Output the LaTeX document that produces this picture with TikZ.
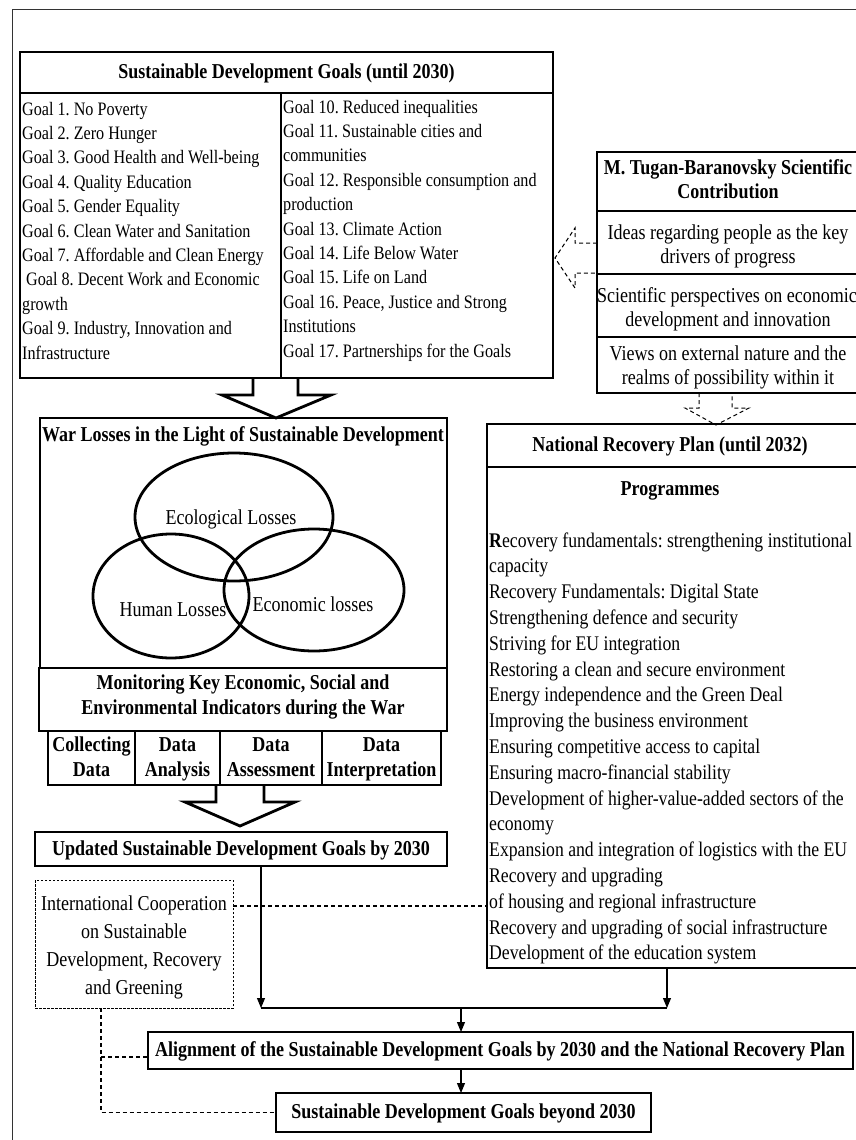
\documentclass[tikz,border=0pt]{standalone}
\usepackage{fontspec}
\setmainfont{Liberation Serif}[FakeStretch=0.85]
\usetikzlibrary{arrows.meta,calc,shapes.geometric}
\newcommand\fsGoal{\frenchspacing\fontsize{19}{22}\selectfont}
\newcommand\fsMain{\frenchspacing\fontsize{21.2}{24}\selectfont}
\newcommand\fsNrp{\frenchspacing\fontsize{20.8}{24}\selectfont}
\begin{document}
\begin{tikzpicture}[x=1pt,y=-1pt,
  box/.style={draw, line width=1.2pt, inner sep=0pt, outer sep=0pt, anchor=north west},
  dotbox/.style={draw, line width=0.9pt, dash pattern=on 2.5pt off 1.5pt, inner sep=0pt, outer sep=0pt, anchor=north west},
  gtxt/.style={anchor=base west, inner sep=0pt, font=\fsGoal},
  ntxt/.style={anchor=base west, inner sep=0pt, font=\fsNrp},
  ctxt/.style={anchor=base, inner sep=0pt, font=\fsMain},
  btxt/.style={anchor=base, inner sep=0pt, font=\fsMain\bfseries},
  ell/.style={draw, ellipse, line width=2.8pt, inner sep=0pt},
  hollow/.style={draw, line width=2.8pt, line join=miter},
  dhollow/.style={draw, line width=1pt, dash pattern=on 4pt off 3pt},
  dcon/.style={draw, line width=1.3pt, dash pattern=on 4pt off 3pt},
  con/.style={draw, line width=1.1pt, -{Triangle[length=10pt,width=8pt]}},
  frame/.style={draw, line width=1pt, black!80}]
\useasboundingbox (0,0) rectangle (856,1140);
% outer frame
\coordinate (f1) at (12,1141);
\coordinate (f2) at (12,10);
\coordinate (f3) at (857,10);
\draw[frame] (f1) -- (f2) -- (f3);

% ---------- SDG box ----------
\node[box, minimum width=533pt, minimum height=326pt] (sdg) at (20,52) {};
\coordinate (sdgl) at (20,93);
\draw[line width=1.2pt] (sdgl) -- (sdgl -| sdg.east);
\coordinate (sdgd) at (281,93);
\draw[line width=1.2pt] (sdgd) -- (sdgd |- sdg.south);
\node[btxt] (sdgt) at (286.5,78) {Sustainable Development Goals (until 2030)};
\foreach \t [count=\i] in {Goal 1. No Poverty, Goal 2. Zero Hunger, Goal 3. Good Health and Well-being, Goal 4. Quality Education, Goal 5. Gender Equality, Goal 6. Clean Water and Sanitation, Goal 7. Affordable and Clean Energy, {\hspace{4pt}Goal 8. Decent Work and Economic}, growth, {Goal 9. Industry, Innovation and}, Infrastructure}
  \node[gtxt] (gl\i) at (22,{115+24.4*(\i-1)}) {\t};
\foreach \t [count=\i] in {Goal 10. Reduced inequalities, Goal 11. Sustainable cities and, communities, Goal 12. Responsible consumption and, production, Goal 13. Climate Action, Goal 14. Life Below Water, Goal 15. Life on Land, {Goal 16. Peace, Justice and Strong}, Institutions, Goal 17. Partnerships for the Goals}
  \node[gtxt] (gr\i) at (283,{113+24.4*(\i-1)}) {\t};

% ---------- Tugan-Baranovsky box ----------
\node[box, minimum width=262pt, minimum height=241pt] (tug) at (597,152) {};
\foreach \yy [count=\i] in {211,274,337} {
  \coordinate (ts\i) at (597,\yy);
  \draw[line width=1.2pt] (ts\i) -- (ts\i -| tug.east);
}
\node[btxt] (tugt1) at (728,174) {M. Tugan-Baranovsky Scientific};
\node[btxt] (tugt2) at (728,198) {Contribution};
\node[ctxt] (tuga1) at (728,239) {Ideas regarding people as the key};
\node[ctxt] (tuga2) at (728,263) {drivers of progress};
\node[ctxt] (tugb1) at (727,302) {Scientific perspectives on economic};
\node[ctxt] (tugb2) at (728,326) {development and innovation};
\node[ctxt] (tugc1) at (728,360) {Views on external nature and the};
\node[ctxt] (tugc2) at (728,384) {realms of possibility within it};

% dashed hollow arrow to the left
\coordinate (la) at (597,243);
\draw[dhollow] (la) -- ++(-22,0) -- ++(0,-15) -- ++(-20,30) -- ++(20,30) -- ++(0,-15) -- ++(22,0);
% dashed hollow arrow down
\coordinate (da) at (699,393);
\draw[dhollow] (da) -- ++(0,15) -- ++(-14,0) -- ++(31,17) -- ++(33,-17) -- ++(-17,0) -- ++(0,-15);

% ---------- National Recovery Plan ----------
\node[box, minimum width=372pt, minimum height=544pt] (nrp) at (487,424) {};
\coordinate (nrps) at (487,467);
\draw[line width=1.2pt] (nrps) -- (nrps -| nrp.east);
\node[btxt] (nrpt) at (670,451) {National Recovery Plan (until 2032)};
\node[btxt] (prog) at (670,495) {Programmes};
\foreach \t [count=\i] in {\textbf{R}ecovery fundamentals: strengthening institutional, capacity, Recovery Fundamentals: Digital State, Strengthening defence and security, Striving for EU integration, Restoring a clean and secure environment, Energy independence and the Green Deal, Improving the business environment, Ensuring competitive access to capital, Ensuring macro-financial stability, Development of higher-value-added sectors of the, economy, Expansion and integration of logistics with the EU, Recovery and upgrading, of housing and regional infrastructure, Recovery and upgrading of social infrastructure, Development of the education system}
  \node[ntxt] (np\i) at (489,{547+25.8*(\i-1)}) {\t};

% ---------- big hollow arrow 1 ----------
\coordinate (a1) at (276,378);
\draw[hollow] ($(a1)+(-23,0)$) -- ++(0,17) -- ++(-31,0) -- ($(a1)+(0,40)$) -- ++(55,-23) -- ++(-33,0) -- ++(0,-17);

% ---------- War losses ----------
\node[box, minimum width=407pt, minimum height=250pt] (war) at (40,418) {};
\node[btxt] (wart) at (243,441) {War Losses in the Light of Sustainable Development};
\node[ell, minimum width=198pt, minimum height=128pt] (eco) at (234,517) {};
\node[ell, minimum width=156pt, minimum height=124pt] (hum) at (171,596) {};
\node[ell, minimum width=180pt, minimum height=122pt] (econ) at (314,590) {};
\node[ctxt] (ecot) at (231,524) {Ecological Losses};
\node[ctxt] (humt) at (173,616) {Human Losses};
\node[ctxt] (econt) at (313,611) {Economic losses};

% ---------- Monitoring ----------
\node[box, minimum width=408pt, minimum height=63pt] (mon) at (39,668) {};
\node[btxt] (mon1) at (243,689) {Monitoring Key Economic, Social and};
\node[btxt] (mon2) at (243,714) {Environmental Indicators during the War};
\node[box, minimum width=87pt, minimum height=54pt] (c1) at (48,731) {};
\node[box, minimum width=85pt, minimum height=54pt] (c2) at (135,731) {};
\node[box, minimum width=102pt, minimum height=54pt] (c3) at (220,731) {};
\node[box, minimum width=119pt, minimum height=54pt] (c4) at (322,731) {};
\node[btxt] (c1a) at (91.5,751) {Collecting};
\node[btxt] (c1b) at (91.5,776) {Data};
\node[btxt] (c2a) at (177.5,751) {Data};
\node[btxt] (c2b) at (177.5,776) {Analysis};
\node[btxt] (c3a) at (271,751) {Data};
\node[btxt] (c3b) at (271,776) {Assessment};
\node[btxt] (c4a) at (381.5,751) {Data};
\node[btxt] (c4b) at (381.5,776) {Interpretation};

% ---------- big hollow arrow 2 ----------
\coordinate (a2) at (240,785);
\draw[hollow] ($(a2)+(-24,0)$) -- ++(0,17) -- ++(-31,0) -- ($(a2)+(0,41)$) -- ++(55,-24) -- ++(-31,0) -- ++(0,-17);

% ---------- Updated SDG ----------
\node[box, minimum width=412pt, minimum height=34pt] (upd) at (35,832) {};
\node[btxt] (updt) at (241,855) {Updated Sustainable Development Goals by 2030};

% ---------- International cooperation ----------
\node[dotbox, minimum width=198pt, minimum height=128pt] (intl) at (35,880) {};
\node[ctxt] (in1) at (134,910) {International Cooperation};
\node[ctxt] (in2) at (134,938) {on Sustainable};
\node[ctxt] (in3) at (134,966) {Development, Recovery};
\node[ctxt] (in4) at (134,994) {and Greening};

% ---------- Alignment and beyond ----------
\node[box, minimum width=705pt, minimum height=37pt] (align) at (148,1032) {};
\node[btxt] (alignt) at (500,1056) {Alignment of the Sustainable Development Goals by 2030 and the National Recovery Plan};
\node[box, minimum width=375pt, minimum height=39pt] (beyond) at (276,1093) {};
\node[btxt] (beyondt) at (463.5,1118) {Sustainable Development Goals beyond 2030};

% ---------- connectors ----------
\coordinate (u1) at ($(upd.south west)+(226,0)$);
\coordinate (n1) at ($(nrp.south west)+(180,0)$);
\coordinate (j1) at (261,1008);
\coordinate (j2) at (667,1008);
\coordinate (jm) at (461,1008);
\draw[con] (u1) -- (u1 |- j1);
\draw[con] (n1) -- (n1 |- j2);
\draw[line width=2pt] (j1) -- (j2);
\draw[con] (jm) -- (jm |- align.north);
\coordinate (am) at (461,1069);
\draw[con] (am) -- (am |- beyond.north);

% dashed connectors
\coordinate (d1) at ($(intl.north east)+(0,26)$);
\draw[dcon] (d1) -- (d1 -| nrp.west);
\coordinate (d2) at ($(intl.south west)+(66,0)$);
\draw[dcon] (d2) |- (beyond.west);
\coordinate (d3) at (101,1057);
\draw[dcon] (d3) -- (d3 -| align.west);
\end{tikzpicture}
\end{document}
